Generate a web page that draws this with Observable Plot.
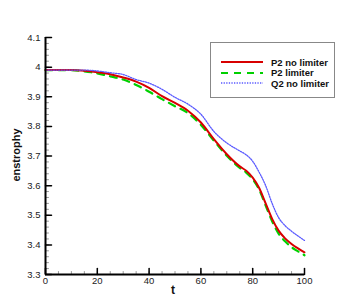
<!DOCTYPE html>
<html><head><meta charset="utf-8">
<script src="https://cdn.jsdelivr.net/npm/d3@7"></script>
<script src="https://cdn.jsdelivr.net/npm/@observablehq/plot@0.6"></script>
<style>
body{margin:0;background:#fff;font-family:"Liberation Sans",Arial,sans-serif;}
#wrap{position:relative;width:346px;height:308px;}
#wrap > svg{position:absolute;left:0;top:0;}
.ttl{position:absolute;font-weight:bold;color:#111;white-space:nowrap;}
#xlab{left:171px;top:283px;font-size:12px;}
#ylab{left:16px;top:155px;font-size:11px;transform:translate(-50%,-50%) rotate(-90deg);}
#legend{position:absolute;left:210px;top:42px;width:125px;height:56px;border:1px solid #888;background:#fff;box-sizing:border-box;}
.row{position:absolute;left:10px;height:11px;display:flex;align-items:center;font-size:9.5px;font-weight:bold;color:#111;white-space:nowrap;}
.row svg{display:block;margin-right:8px;}
</style></head><body><div id="wrap"></div>
<script>
const t = [0, 5, 10, 15, 20, 25, 30, 35, 40, 45, 50, 55, 60, 65, 70, 75, 77.5, 80, 82.5, 85, 87.5, 90, 92.5, 95, 97.5, 100];
const p2NoLimiter = [3.99, 3.99, 3.99, 3.988, 3.983, 3.976, 3.965, 3.951, 3.930, 3.902, 3.879, 3.853, 3.813, 3.757, 3.706, 3.665, 3.650, 3.627, 3.592, 3.540, 3.488, 3.448, 3.422, 3.403, 3.388, 3.375];
const p2Limiter = [3.99, 3.99, 3.99, 3.986, 3.979, 3.969, 3.958, 3.940, 3.917, 3.892, 3.868, 3.845, 3.805, 3.752, 3.701, 3.660, 3.644, 3.621, 3.586, 3.533, 3.480, 3.438, 3.412, 3.392, 3.378, 3.365];
const q2NoLimiter = [3.99, 3.99, 3.99, 3.99, 3.987, 3.981, 3.975, 3.958, 3.946, 3.925, 3.898, 3.875, 3.841, 3.783, 3.744, 3.717, 3.704, 3.682, 3.645, 3.600, 3.540, 3.492, 3.465, 3.446, 3.430, 3.415];
const seriesNames = ["P2 no limiter", "P2 limiter", "Q2 no limiter"];
const xTicks = [0, 20, 40, 60, 80, 100];
const yTicks = [3.3, 3.4, 3.5, 3.6, 3.7, 3.8, 3.9, 4.0, 4.1];
const xMinor = d3.range(0, 100.001, 5);
const yMinor = d3.range(3.3, 4.1001, 0.02);
const xTitle = "t";
const yTitle = "enstrophy";

const styles = [
  {stroke: "#d80000", strokeWidth: 2, strokeDasharray: null},
  {stroke: "#00d000", strokeWidth: 2.2, strokeDasharray: "7,6"},
  {stroke: "#5a5aff", strokeWidth: 1.3, strokeDasharray: "1.3,1.3"}
];
const values = [p2NoLimiter, p2Limiter, q2NoLimiter];
const rows = values.map((v, i) => t.map((tt, j) => ({t: tt, e: v[j], series: seriesNames[i]})));

const tickShape = {draw(ctx, l) { ctx.moveTo(0, 0); ctx.lineTo(0, -l); }};
const yTick = (data, len, stroke, sw) => Plot.vector(data, {y: d => d, frameAnchor: "left", length: len, rotate: 90, anchor: "start", shape: tickShape, stroke, strokeWidth: sw});
const xTick = (data, len, stroke, sw) => Plot.vector(data, {x: d => d, frameAnchor: "bottom", length: len, rotate: 0, anchor: "start", shape: tickShape, stroke, strokeWidth: sw});

const chart = Plot.plot({
  width: 346, height: 308,
  marginLeft: 45, marginRight: 42, marginTop: 37, marginBottom: 34,
  x: {domain: [0, 100]},
  y: {domain: [3.3, 4.1]},
  style: {fontFamily: "'Liberation Sans', Arial, sans-serif", fontSize: "9.5px", color: "#222", background: "transparent"},
  marks: [
    Plot.axisY(yTicks, {tickSize: 0, tickPadding: 5, tickFormat: d3.format("~g"), label: null}),
    Plot.axisX(xTicks, {tickSize: 0, tickPadding: 3, tickFormat: d3.format("~g"), label: null}),
    yTick(yMinor, 3, "#999", 1),
    yTick(yTicks, 6, "#000", 1.5),
    xTick(xMinor, 3, "#999", 1),
    xTick(xTicks, 6, "#000", 1.5),
    Plot.line(rows[1], {x: "t", y: "e", ...styles[1], curve: "monotone-x"}),
    Plot.line(rows[0], {x: "t", y: "e", ...styles[0], curve: "monotone-x"}),
    Plot.line(rows[2], {x: "t", y: "e", ...styles[2], curve: "monotone-x"}),
    Plot.ruleX([0], {stroke: "#000", strokeWidth: 2}),
    Plot.ruleY([3.3], {stroke: "#000", strokeWidth: 2})
  ]
});
const wrap = document.getElementById("wrap");
wrap.appendChild(chart);

const xl = document.createElement("div"); xl.className = "ttl"; xl.id = "xlab"; xl.textContent = xTitle; wrap.appendChild(xl);
const yl = document.createElement("div"); yl.className = "ttl"; yl.id = "ylab"; yl.textContent = yTitle; wrap.appendChild(yl);

const leg = document.createElement("div"); leg.id = "legend"; wrap.appendChild(leg);
seriesNames.forEach((name, i) => {
  const r = document.createElement("div"); r.className = "row"; r.style.top = (13.5 + i * 10.5) + "px";
  const s = d3.create("svg").attr("width", 42).attr("height", 6);
  s.append("line").attr("x1", 0).attr("x2", 42).attr("y1", 3).attr("y2", 3)
    .attr("stroke", styles[i].stroke).attr("stroke-width", styles[i].strokeWidth)
    .attr("stroke-dasharray", styles[i].strokeDasharray);
  r.appendChild(s.node());
  const sp = document.createElement("span"); sp.textContent = name; r.appendChild(sp);
  leg.appendChild(r);
});
</script>
</body></html>
